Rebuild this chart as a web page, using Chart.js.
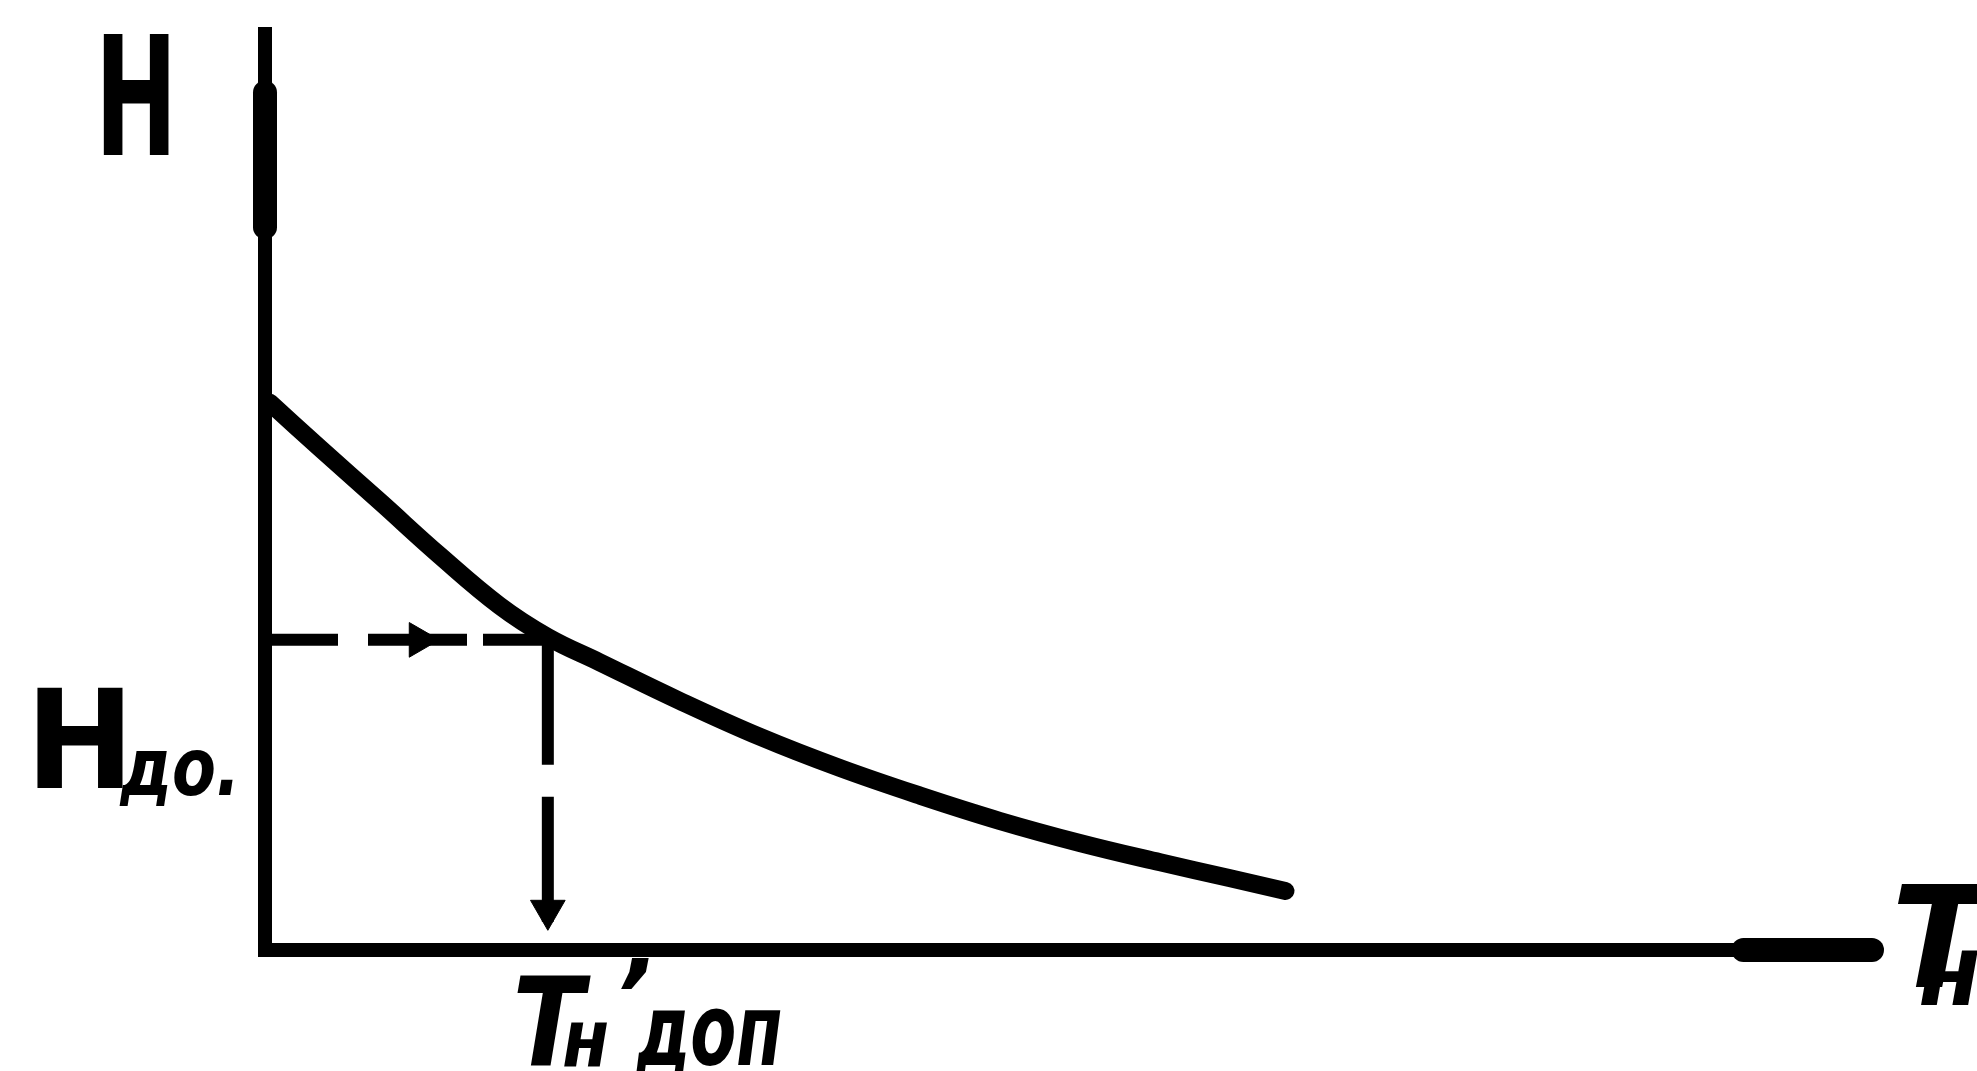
<!DOCTYPE html>
<html lang="ru">
<head>
    <meta charset="UTF-8">
    <title>H(Tн)</title>
    <script src="https://cdn.jsdelivr.net/npm/chart.js"></script>
    <style>
        body {
            margin: 0;
            background: #fff;
        }
        #wrap {
            width: 1977px;
            height: 1071px;
        }
    </style>
</head>
<body>
    <div id="wrap"><canvas id="chart"></canvas></div>

    <script>
        // кривая H = f(Tн)
        const curveT = [0.3, 3.4, 7.2, 10.9, 14.6, 17.6, 20.8, 25.8, 30.8, 35.8, 40.8, 45.7, 50.7, 55.7, 60.0, 63.5];
        const curveH = [59.3, 54.4, 48.5, 42.7, 37.3, 33.9, 31.2, 27.0, 23.1, 19.7, 16.7, 14.0, 11.6, 9.5, 7.8, 6.4];

        // допустимые значения
        const dopT = 17.6;
        const dopH = 33.6;

        // пределы осей
        const axisMaxT = 100;
        const axisMaxH = 100;
        const yArrowFrom = 78.3, yArrowTo = 92.9;
        const xArrowFrom = 92;

        // стрелки на пунктире
        const arrowT = [9.6, dopT];
        const arrowH = [dopH, 4.3];
        const arrowRot = [90, 180];

        // подписи
        const labelText = ['H', 'H', 'до.', 'T', 'н', '\u2019', 'доп', 'T', 'н'];
        const labelT = [-10.6, -14.9, -9.0, 15.4, 18.5, 21.7, 23.1, 101.2, 102.9];
        const labelH = [86.1, 17.6, 16.8, -12.5, -12.7, -8.8, -12.5, -4.0, -6.0];

        const labelStyle = [
            { size: 165, sx: 0.6, italic: false },
            { size: 137, sx: 0.95, italic: false },
            { size: 80, sx: 0.8, italic: true },
            { size: 123, sx: 0.85, italic: true },
            { size: 80, sx: 0.85, italic: true },
            { size: 100, sx: 1, italic: true },
            { size: 100, sx: 0.67, italic: true },
            { size: 140, sx: 1, italic: true },
            { size: 100, sx: 0.9, italic: true }
        ];

        const ink = '#000';

        const textPlugin = {
            id: 'sketchLabels',
            afterDatasetsDraw(chart) {
                const { ctx, scales } = chart;
                ctx.save();
                ctx.fillStyle = ink;
                ctx.textAlign = 'left';
                ctx.textBaseline = 'alphabetic';
                labelText.forEach((t, i) => {
                    const st = labelStyle[i];
                    const px = scales.x.getPixelForValue(labelT[i]);
                    const py = scales.y.getPixelForValue(labelH[i]);
                    ctx.save();
                    ctx.translate(px, py);
                    ctx.scale(st.sx, 1);
                    ctx.font = (st.italic ? 'italic ' : '') + 'bold ' + st.size + 'px "DejaVu Sans", sans-serif';
                    ctx.fillText(t, 0, 0);
                    ctx.restore();
                });
                ctx.restore();
            }
        };

        const line = (data, width, extra) => Object.assign({
            data,
            borderColor: ink,
            borderWidth: width,
            borderCapStyle: 'round',
            pointRadius: 0,
            showLine: true,
            clip: false
        }, extra || {});

        const curveData = curveT.map((t, i) => ({ x: t, y: curveH[i] }));

        new Chart(document.getElementById('chart'), {
            type: 'scatter',
            data: {
                datasets: [
                    // оси одной ломаной, чтобы угол был сплошным
                    line([{ x: 0, y: axisMaxH }, { x: 0, y: 0 }, { x: axisMaxT, y: 0 }], 14, { borderCapStyle: 'butt', borderJoinStyle: 'miter' }),
                    line([{ x: 0, y: yArrowFrom }, { x: 0, y: yArrowTo }], 24),
                    line([{ x: xArrowFrom, y: 0 }, { x: axisMaxT, y: 0 }], 24),
                    // пунктир
                    line([{ x: 0, y: dopH }, { x: dopT, y: dopH }], 12, { borderDash: [73, 30, 99, 16, 80, 10], borderCapStyle: 'butt' }),
                    line([{ x: dopT, y: dopH }, { x: dopT, y: 0 }], 12, { borderDash: [125, 32], borderCapStyle: 'butt' }),
                    // кривая
                    line(curveData, 18, { tension: 0.4, borderJoinStyle: 'round' }),
                    // стрелки
                    {
                        data: arrowT.map((t, i) => ({ x: t, y: arrowH[i] })),
                        showLine: false,
                        pointStyle: 'triangle',
                        rotation: arrowRot,
                        pointRadius: 20,
                        backgroundColor: ink,
                        borderColor: ink,
                        borderWidth: 1,
                        clip: false
                    }
                ]
            },
            options: {
                responsive: true,
                maintainAspectRatio: false,
                animation: false,
                layout: { padding: { left: 265, right: 105, top: 27, bottom: 121 } },
                plugins: {
                    legend: { display: false },
                    tooltip: { enabled: false }
                },
                scales: {
                    x: { type: 'linear', min: 0, max: axisMaxT, display: false },
                    y: { type: 'linear', min: 0, max: axisMaxH, display: false }
                }
            },
            plugins: [textPlugin]
        });
    </script>
</body>
</html>
